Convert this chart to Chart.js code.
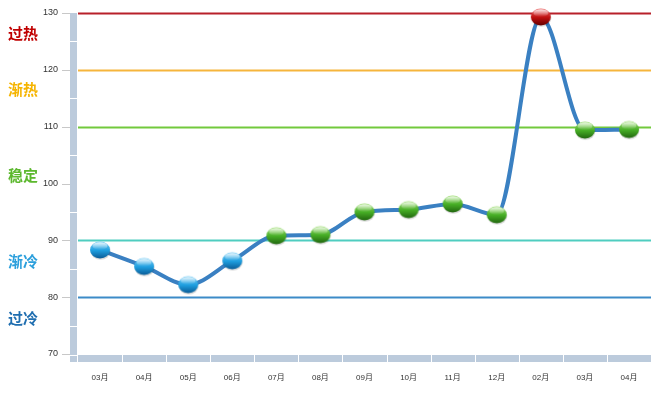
<!DOCTYPE html>
<html>
<head>
<meta charset="utf-8">
<script src="https://cdn.jsdelivr.net/npm/chart.js@4/dist/chart.umd.min.js"></script>
<style>
  html, body { margin: 0; padding: 0; background: #fff; }
  #wrap { width: 669px; height: 396px; }
</style>
</head>
<body>
<div id="wrap"><canvas id="chart" width="669" height="396"></canvas></div>
<script>
// 月份和指数
const months = ['03月', '04月', '05月', '06月', '07月', '08月', '09月', '10月', '11月', '12月', '02月', '03月', '04月'];
const values = [88.3, 85.4, 82.2, 86.4, 90.8, 91.0, 95.0, 95.4, 96.4, 94.5, 129.3, 109.4, 109.5];

// 阈值线
const levels = [130, 120, 110, 90, 80];
const levelColors = ['#b8202a', '#f6b53c', '#72c93c', '#4fcdc0', '#3c8bc8'];

// 区间标签 (放在两个阈值之间)
const zoneNames = ['过热', '渐热', '稳定', '渐冷', '过冷'];
const zoneValues = [126.5, 116.5, 101.5, 86.3, 76.3];
const zoneColors = ['#c00000', '#f5b400', '#5cb82e', '#2b9fdc', '#1f6eb0'];

// 生成球形点
function makeBall(light, base, dark) {
    const c = document.createElement('canvas');
    c.width = 24; c.height = 22;
    const g = c.getContext('2d');
    g.save();
    // 阴影
    g.fillStyle = 'rgba(0,0,0,0.15)';
    g.beginPath();
    g.ellipse(12.5, 12, 10, 8.8, 0, 0, Math.PI * 2);
    g.fill();
    // 球体
    const grad = g.createLinearGradient(0, 2, 0, 19);
    grad.addColorStop(0, light);
    grad.addColorStop(0.55, base);
    grad.addColorStop(1, dark);
    g.fillStyle = grad;
    g.beginPath();
    g.ellipse(12, 11, 10, 8.5, 0, 0, Math.PI * 2);
    g.fill();
    // 高光
    const hl = g.createLinearGradient(0, 3, 0, 10);
    hl.addColorStop(0, 'rgba(255,255,255,0.85)');
    hl.addColorStop(1, 'rgba(255,255,255,0.05)');
    g.fillStyle = hl;
    g.beginPath();
    g.ellipse(12, 7, 7.5, 3.8, 0, 0, Math.PI * 2);
    g.fill();
    g.restore();
    return c;
}

const balls = {
    blue: makeBall('#7fd0f6', '#1f9fe0', '#0b5f9a'),
    green: makeBall('#a6e27a', '#47ae26', '#236a10'),
    red: makeBall('#f07272', '#c01010', '#6a0000')
};

function ballFor(v) {
    if (v >= 120) return balls.red;
    if (v >= 90) return balls.green;
    return balls.blue;
}

const barColor = '#bccbdc';

const decorPlugin = {
    id: 'decor',
    beforeDatasetsDraw(chart) {
        const ctx = chart.ctx;
        const area = chart.chartArea;
        const y = chart.scales.y;
        ctx.save();

        // 阈值线
        levels.forEach((lv, i) => {
            const py = Math.round(y.getPixelForValue(lv)) + 0.5;
            ctx.strokeStyle = levelColors[i];
            ctx.lineWidth = 2;
            ctx.beginPath();
            ctx.moveTo(area.left, py);
            ctx.lineTo(area.right, py);
            ctx.stroke();
        });

        // 纵轴粗条
        const yTop = y.getPixelForValue(130);
        const yBot = y.getPixelForValue(70);
        ctx.fillStyle = barColor;
        ctx.fillRect(area.left - 8, yTop, 7, yBot - yTop + 8);
        ctx.fillStyle = '#fff';
        for (let v = 75; v < 130; v += 10) {
            ctx.fillRect(area.left - 8, Math.round(y.getPixelForValue(v)), 7, 1);
        }
        ctx.fillRect(area.left - 8, yBot + 1, 7, 1);

        // 刻度短线
        ctx.strokeStyle = '#c8c8c8';
        ctx.lineWidth = 1;
        for (let v = 70; v <= 130; v += 10) {
            const py = Math.round(y.getPixelForValue(v)) + 0.5;
            ctx.beginPath();
            ctx.moveTo(area.left - 16, py);
            ctx.lineTo(area.left - 8, py);
            ctx.stroke();
        }

        // 横轴粗条
        ctx.fillStyle = barColor;
        ctx.fillRect(area.left, yBot + 1, area.right - area.left, 7);
        ctx.fillStyle = '#fff';
        const step = (area.right - area.left) / months.length;
        for (let i = 1; i < months.length; i++) {
            ctx.fillRect(Math.round(area.left + step * i), yBot + 1, 1, 7);
        }

        // 区间文字
        ctx.font = 'bold 15px "Noto Sans CJK SC", sans-serif';
        ctx.textAlign = 'left';
        ctx.textBaseline = 'middle';
        zoneNames.forEach((name, i) => {
            ctx.fillStyle = zoneColors[i];
            ctx.fillText(name, 8, y.getPixelForValue(zoneValues[i]));
        });
        ctx.restore();
    }
};

new Chart(document.getElementById('chart'), {
    type: 'line',
    data: {
        labels: months,
        datasets: [{
            data: values,
            borderColor: '#3a80c2',
            borderWidth: 4,
            cubicInterpolationMode: 'monotone',
            pointStyle: ctx => ballFor(ctx.raw),
            pointRadius: 9,
            pointHoverRadius: 9,
            clip: false
        }]
    },
    options: {
        responsive: false,
        animation: false,
        events: [],
        layout: { autoPadding: false, padding: { top: 13, right: 18, left: 0, bottom: 0 } },
        plugins: {
            legend: { display: false },
            tooltip: { enabled: false }
        },
        scales: {
            x: {
                offset: true,
                grid: { display: false, drawTicks: false },
                border: { display: false },
                ticks: {
                    color: '#333',
                    font: { size: 8, family: '"Liberation Sans", "Noto Sans CJK SC", sans-serif' },
                    padding: 19,
                    maxRotation: 0,
                    autoSkip: false
                },
                afterFit: s => { s.height = 42; s.paddingLeft = 0; s.paddingRight = 0; }
            },
            y: {
                min: 70,
                max: 130,
                grid: { display: false, drawTicks: false },
                border: { display: false },
                ticks: {
                    stepSize: 10,
                    color: '#333',
                    font: { size: 9, family: '"Liberation Sans", sans-serif' },
                    padding: 20
                },
                afterFit: s => { s.width = 78; s.paddingTop = 0; s.paddingBottom = 0; }
            }
        }
    },
    plugins: [decorPlugin]
});
</script>
</body>
</html>
